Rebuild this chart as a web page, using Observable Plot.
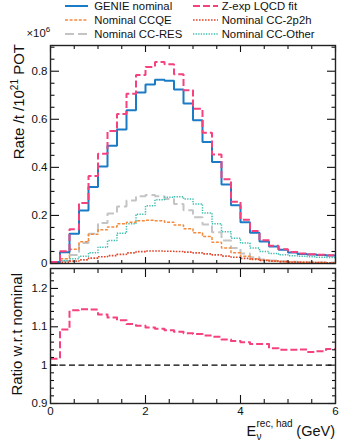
<!DOCTYPE html>
<html><head><meta charset="utf-8">
<script src="https://cdn.jsdelivr.net/npm/d3@7"></script>
<script src="https://cdn.jsdelivr.net/npm/@observablehq/plot@0.6"></script>
<style>
html,body{margin:0;padding:0;background:#fff;}
#fig{position:relative;width:339px;height:448px;overflow:hidden;font-family:"Liberation Sans",Arial,sans-serif;}
#fig > svg{position:absolute;left:0;}
</style></head><body><div id="fig"></div>
<script>
// ---- data ----
const binLow = [0,0.2,0.4,0.6,0.8,1,1.2,1.4,1.6,1.8,2,2.2,2.4,2.6,2.8,3,3.2,3.4,3.6,3.8,4,4.2,4.4,4.6,4.8,5,5.2,5.4,5.6,5.8];
const binHigh = 6;
const genieNominal = [0.006,0.047,0.124,0.220,0.318,0.404,0.490,0.557,0.638,0.711,0.745,0.765,0.760,0.724,0.666,0.596,0.505,0.422,0.329,0.242,0.172,0.128,0.092,0.071,0.057,0.046,0.040,0.037,0.035,0.033];
const zexpLQCD = [0.006,0.051,0.142,0.252,0.364,0.457,0.551,0.622,0.706,0.784,0.818,0.838,0.829,0.787,0.721,0.644,0.544,0.453,0.351,0.257,0.182,0.135,0.097,0.074,0.059,0.048,0.042,0.038,0.036,0.034];
const nominalCCQE = [0.003,0.020,0.059,0.090,0.122,0.140,0.152,0.165,0.172,0.178,0.180,0.178,0.172,0.160,0.145,0.128,0.112,0.088,0.065,0.045,0.030,0.020,0.014,0.010,0.007,0.006,0.005,0.004,0.004,0.003];
const nominalCC2p2h = [0.001,0.005,0.010,0.015,0.022,0.028,0.033,0.038,0.044,0.049,0.052,0.052,0.051,0.050,0.047,0.044,0.040,0.036,0.031,0.026,0.021,0.017,0.013,0.010,0.008,0.006,0.005,0.004,0.004,0.003];
const nominalCCRES = [0.002,0.010,0.035,0.085,0.124,0.168,0.208,0.237,0.262,0.280,0.285,0.280,0.268,0.248,0.222,0.192,0.162,0.130,0.096,0.065,0.042,0.026,0.017,0.012,0.009,0.007,0.006,0.005,0.004,0.004];
const nominalCCOther = [0.002,0.012,0.020,0.030,0.045,0.068,0.096,0.126,0.165,0.205,0.240,0.265,0.276,0.278,0.268,0.248,0.210,0.165,0.132,0.105,0.085,0.064,0.050,0.042,0.036,0.032,0.030,0.028,0.026,0.025];
const ratioZexp = [1.017,1.093,1.143,1.146,1.145,1.132,1.124,1.117,1.107,1.103,1.098,1.095,1.091,1.087,1.083,1.081,1.077,1.074,1.067,1.063,1.060,1.055,1.055,1.044,1.040,1.040,1.041,1.034,1.036,1.042];
const ratioReference = [1];

const xTicks = [0,2,4,6];
const xMinorTicks = [0.5,1,1.5,2.5,3,3.5,4.5,5,5.5];
const rateTicks = [0,0.2,0.4,0.6,0.8];
const rateMinorTicks = [0.05,0.1,0.15,0.25,0.3,0.35,0.45,0.5,0.55,0.65,0.7,0.75,0.85,0.9];
const ratioTicks = [0.9,1,1.1,1.2];
const ratioMinorTicks = [0.92,0.94,0.96,0.98,1.02,1.04,1.06,1.08,1.12,1.14,1.16,1.18,1.22,1.24];

// ---- styles ----
const FONT = "'Liberation Sans', Arial, sans-serif";
const series = [
  {name:"Nominal CC-RES",   values:nominalCCRES,   stroke:"#c4c4c4", width:2,   dash:"9,4",     col:0, row:2},
  {name:"Nominal CC-Other", values:nominalCCOther, stroke:"#3dbdad", width:1.5, dash:"1.3,1.3", col:1, row:2},
  {name:"Nominal CCQE",     values:nominalCCQE,    stroke:"#f58a3c", width:1.5, dash:"3,1.6",   col:0, row:1},
  {name:"Nominal CC-2p2h",  values:nominalCC2p2h,  stroke:"#e0442a", width:1.7, dash:"1.6,1.4", col:1, row:1},
  {name:"GENIE nominal",    values:genieNominal,   stroke:"#1b7bc4", width:2,   dash:null,      col:0, row:0},
  {name:"Z-exp LQCD fit",   values:zexpLQCD,       stroke:"#f5417d", width:2,   dash:"7,3",     col:1, row:0}
];
const zexp = series[5];

function stepData(values) {
  const d = binLow.map((x, i) => ({x, y: values[i]}));
  d.push({x: binHigh, y: values[values.length - 1]});
  return d;
}
const blank = () => "";
const plain = d => String(d);

function tickAxes(yMaj, yMin, xMajLen, xMinLen, yMajLen, yMinLen) {
  const t = {stroke:"#111", strokeWidth:1.1, tickFormat:blank, label:null};
  return [
    Plot.axisX(xTicks, {...t, anchor:"bottom", tickSize:-xMajLen}),
    Plot.axisX(xTicks, {...t, anchor:"top", tickSize:-xMajLen}),
    Plot.axisX(xMinorTicks, {...t, anchor:"bottom", tickSize:-xMinLen}),
    Plot.axisX(xMinorTicks, {...t, anchor:"top", tickSize:-xMinLen}),
    Plot.axisY(yMaj, {...t, anchor:"left", tickSize:-yMajLen}),
    Plot.axisY(yMaj, {...t, anchor:"right", tickSize:-yMajLen}),
    Plot.axisY(yMin, {...t, anchor:"left", tickSize:-yMinLen}),
    Plot.axisY(yMin, {...t, anchor:"right", tickSize:-yMinLen})
  ];
}

// ---- upper panel ----
const upper = Plot.plot({
  width: 339, height: 275,
  marginTop: 45, marginBottom: 12, marginLeft: 50, marginRight: 4,
  style: {fontFamily: FONT, fontSize: "11.5px", color: "#111", background: "transparent"},
  x: {domain: [0, 6]},
  y: {domain: [0, 0.907]},
  marks: [
    ...series.map(s => Plot.line(stepData(s.values), {
      x: "x", y: "y", curve: "step-after", stroke: s.stroke, strokeWidth: s.width,
      strokeDasharray: s.dash, strokeLinecap: "butt", strokeLinejoin: "miter"
    })),
    ...tickAxes(rateTicks, rateMinorTicks, 6, 3, 9, 4.5),
    Plot.axisY(rateTicks, {anchor:"left", tickSize:0, tickPadding:3, label:null, fill:"#111", tickFormat: plain}),
    Plot.frame({stroke: "#222", strokeWidth: 1.4})
  ]
});
upper.style.top = "0px";

// ---- lower panel ----
const lower = Plot.plot({
  width: 339, height: 185,
  marginTop: 5, marginBottom: 45, marginLeft: 50, marginRight: 4,
  style: {fontFamily: FONT, fontSize: "11.5px", color: "#111", background: "transparent"},
  x: {domain: [0, 6]},
  y: {domain: [0.9, 1.252]},
  marks: [
    Plot.ruleY(ratioReference, {stroke: "#000", strokeWidth: 1.4, strokeDasharray: "6,3.5"}),
    Plot.line(stepData(ratioZexp), {
      x: "x", y: "y", curve: "step-after", stroke: zexp.stroke, strokeWidth: zexp.width,
      strokeDasharray: zexp.dash, strokeLinecap: "butt"
    }),
    ...tickAxes(ratioTicks, ratioMinorTicks, 8, 4, 8, 4),
    Plot.axisY(ratioTicks, {anchor:"left", tickSize:0, tickPadding:3, label:null, fill:"#111", tickFormat: plain}),
    Plot.axisX(xTicks, {anchor:"bottom", tickSize:0, tickPadding:3, label:null, fill:"#111", tickFormat: plain}),
    Plot.frame({stroke: "#222", strokeWidth: 1.4})
  ]
});
lower.style.top = "263px";

const fig = document.getElementById("fig");
fig.appendChild(lower);
fig.appendChild(upper);

// ---- overlay: legend and titles ----
const ov = d3.select(fig).append("svg")
  .attr("width", 339).attr("height", 448)
  .style("top", "0px").style("pointer-events", "none")
  .style("font-family", FONT).style("fill", "#111");

const legX = [{line0: 65, line1: 88, text: 94.3}, {line0: 193, line1: 218, text: 221.7}];
const legRow = [{line: 6, base: 10}, {line: 20, base: 24}, {line: 34, base: 38.3}];
series.forEach(s => {
  const c = legX[s.col], r = legRow[s.row];
  ov.append("line").attr("x1", c.line0).attr("x2", c.line1).attr("y1", r.line).attr("y2", r.line)
    .attr("stroke", s.stroke).attr("stroke-width", s.width)
    .attr("stroke-dasharray", s.dash);
  ov.append("text").attr("x", c.text).attr("y", r.base).attr("font-size", "11.3px").text(s.name);
});

// multiplier
const mult = ov.append("text").attr("x", 26.5).attr("y", 37).attr("font-size", "11.3px");
mult.append("tspan").text("×10");
mult.append("tspan").attr("dy", -5).attr("font-size", "8px").text("6");

// y titles
const yt = ov.append("text").attr("transform", "translate(24,44) rotate(-90)")
  .attr("text-anchor", "end").attr("font-size", "15px");
yt.append("tspan").text("Rate /t /10");
yt.append("tspan").attr("dy", -6).attr("font-size", "10px").text("21");
yt.append("tspan").attr("dy", 6).text(" POT");

ov.append("text").attr("transform", "translate(21.7,273) rotate(-90)")
  .attr("text-anchor", "end").attr("font-size", "15px").text("Ratio w.r.t nominal");

// x title
ov.append("text").attr("x", 246.5).attr("y", 436).attr("font-size", "14.5px").text("E");
ov.append("text").attr("x", 256.5).attr("y", 427).attr("font-size", "10px").text("rec, had");
ov.append("text").attr("x", 256.5).attr("y", 440).attr("font-size", "10px").text("ν");
ov.append("text").attr("x", 335).attr("y", 436).attr("text-anchor", "end").attr("font-size", "14.5px").text("(GeV)");
</script>
</body></html>
